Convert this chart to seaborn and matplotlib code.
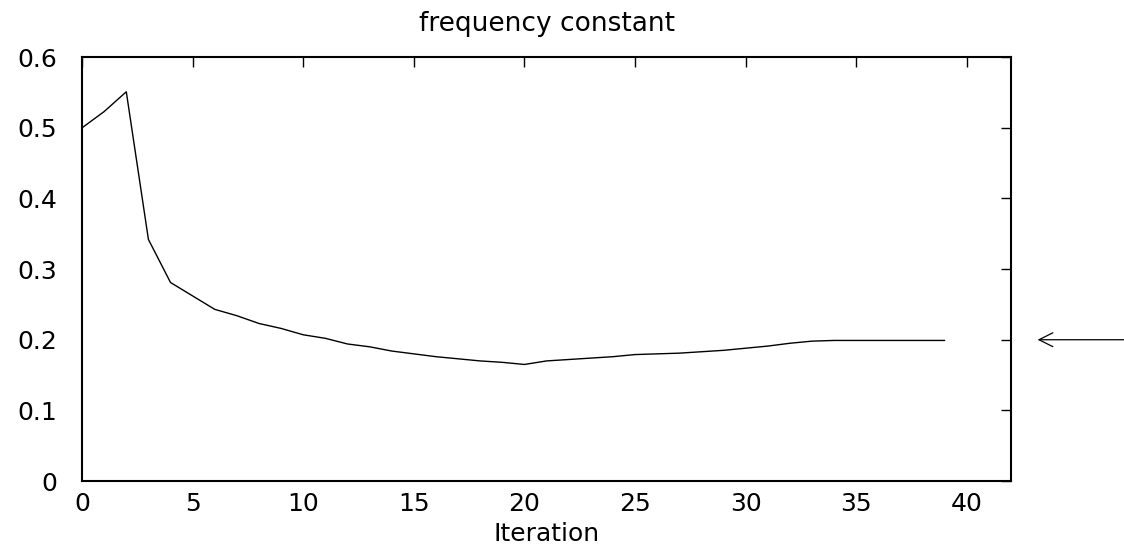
import matplotlib
matplotlib.use("Agg")
import matplotlib.pyplot as plt
import seaborn as sns
import pandas as pd

# values
iterations = list(range(40))
freq_const = [
    0.500, 0.523, 0.551, 0.342, 0.281, 0.262, 0.243, 0.234, 0.223, 0.216,
    0.207, 0.202, 0.194, 0.190, 0.184, 0.180, 0.176, 0.173, 0.170, 0.168,
    0.165, 0.170, 0.172, 0.174, 0.176, 0.179, 0.180, 0.181, 0.183, 0.185,
    0.188, 0.191, 0.195, 0.198, 0.199, 0.199, 0.199, 0.199, 0.199, 0.199,
]
target_value = 0.2
x_ticks = [0, 5, 10, 15, 20, 25, 30, 35, 40]
y_ticks = [0, 0.1, 0.2, 0.3, 0.4, 0.5, 0.6]
y_labels = ["0", "0.1", "0.2", "0.3", "0.4", "0.5", "0.6"]

sns.set_style("white")
plt.rcParams["font.family"] = ["DejaVu Sans"]
plt.rcParams["text.color"] = "black"
plt.rcParams["axes.labelcolor"] = "black"
plt.rcParams["xtick.color"] = "black"
plt.rcParams["ytick.color"] = "black"

df = pd.DataFrame({"Iteration": iterations, "value": freq_const})

fig = plt.figure(figsize=(11.24, 5.55), dpi=100)
ax = fig.add_axes([0.073, 0.1333, 0.8265, 0.7637])

sns.lineplot(data=df, x="Iteration", y="value", ax=ax, color="black", linewidth=1.0)

ax.set_xlim(0, 42)
ax.set_ylim(0, 0.6)
ax.set_xticks(x_ticks)
ax.set_yticks(y_ticks)
ax.set_yticklabels(y_labels)
ax.tick_params(axis="both", direction="in", length=7, width=1, labelsize=18,
               top=True, right=True, colors="black")
ax.tick_params(axis="x", pad=8)
ax.tick_params(axis="y", pad=18)
for spine in ax.spines.values():
    spine.set_visible(True)
    spine.set_color("black")
    spine.set_linewidth(1.5)

ax.set_title("frequency constant", fontsize=19, pad=19, color="black")
ax.set_xlabel("Iteration", fontsize=18, labelpad=4)
ax.set_ylabel("")

# arrow marking the target value, outside the plot area
ax.annotate("", xy=(43.2, target_value), xytext=(47.4, target_value),
            xycoords="data", textcoords="data", annotation_clip=False,
            arrowprops=dict(arrowstyle="->", color="black", lw=0.9,
                            mutation_scale=25, shrinkA=0, shrinkB=0))

fig.savefig("out.png", dpi=100)
